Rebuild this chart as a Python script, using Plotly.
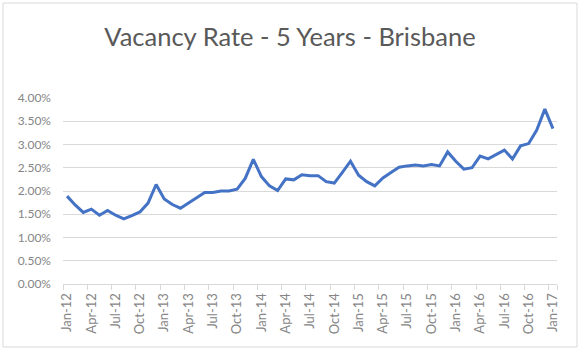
import plotly.graph_objects as go

months = [f"{m}-{y}" for y in ["12", "13", "14", "15", "16"]
          for m in ["Jan", "Feb", "Mar", "Apr", "May", "Jun", "Jul", "Aug", "Sep", "Oct", "Nov", "Dec"]] + ["Jan-17"]

vacancy = [1.89, 1.70, 1.54, 1.61, 1.48, 1.58, 1.48, 1.40, 1.47, 1.55, 1.74, 2.14,
           1.83, 1.71, 1.63, 1.74, 1.85, 1.97, 1.97, 2.00, 2.00, 2.04, 2.27, 2.68,
           2.31, 2.11, 2.01, 2.26, 2.24, 2.35, 2.33, 2.33, 2.20, 2.17, 2.40, 2.64,
           2.34, 2.20, 2.11, 2.28, 2.40, 2.51, 2.54, 2.56, 2.54, 2.57, 2.54, 2.84,
           2.64, 2.47, 2.50, 2.75, 2.69, 2.79, 2.88, 2.69, 2.97, 3.02, 3.31, 3.76,
           3.34]

y_ticks = [0, 0.5, 1.0, 1.5, 2.0, 2.5, 3.0, 3.5, 4.0]
x_idx = list(range(len(months)))
label_idx = x_idx[::3]
label_txt = [months[i] for i in label_idx]
bound_ticks = [i - 0.5 for i in label_idx] + [len(months) - 0.5]

W, H = 580, 352
L, R, T, B = 63, 23, 98, 68
pw, ph = W - L - R, H - T - B

fig = go.Figure()
fig.add_trace(go.Scatter(x=x_idx, y=vacancy, mode="lines",
                         line=dict(color="#4472C4", width=3), showlegend=False,
                         hoverinfo="skip"))
# invisible trace to activate the tick-mark axis
fig.add_trace(go.Scatter(x=[x_idx[0]], y=[vacancy[0]], xaxis="x2", mode="markers",
                         marker=dict(opacity=0), showlegend=False, hoverinfo="skip"))

fig.update_layout(
    width=W, height=H,
    margin=dict(l=L, r=R, t=T, b=B),
    paper_bgcolor="white", plot_bgcolor="white",
    title=dict(text="Vacancy Rate - 5 Years - Brisbane", x=0.5, xanchor="center",
               y=1 - 37 / H, yanchor="middle",
               font=dict(family="Lato", size=25.5, color="#595959")),
    xaxis=dict(range=[-0.5, len(months) - 0.5], tickmode="array", tickvals=label_idx,
               ticktext=label_txt, tickangle=-90, ticks="", showgrid=False,
               zeroline=False, showline=True, linecolor="#d9d9d9", linewidth=1,
               ticklabelstandoff=3,
               tickfont=dict(family="Lato", size=13, color="#858585")),
    xaxis2=dict(range=[-0.5, len(months) - 0.5], overlaying="x", side="bottom",
                tickmode="array", tickvals=bound_ticks, showticklabels=False,
                ticks="outside", ticklen=5, tickcolor="#d9d9d9", showgrid=False,
                zeroline=False, showline=False),
    yaxis=dict(range=[0, 4], tickmode="array", tickvals=y_ticks,
               ticktext=[f"{v:.2f}%" for v in y_ticks], showgrid=True,
               gridcolor="#d9d9d9", gridwidth=1, zeroline=False, ticks="",
               ticklabelstandoff=11,
               tickfont=dict(family="Lato", size=12, color="#858585")),
)

# outer chart border
fig.add_shape(type="rect", xref="paper", yref="paper",
              x0=(3 - L) / pw, x1=(577 - L) / pw,
              y0=(H - B - 347) / ph, y1=(H - B - 3) / ph,
              line=dict(color="#d9d9d9", width=1), layer="below")

fig.write_html("out.html")
